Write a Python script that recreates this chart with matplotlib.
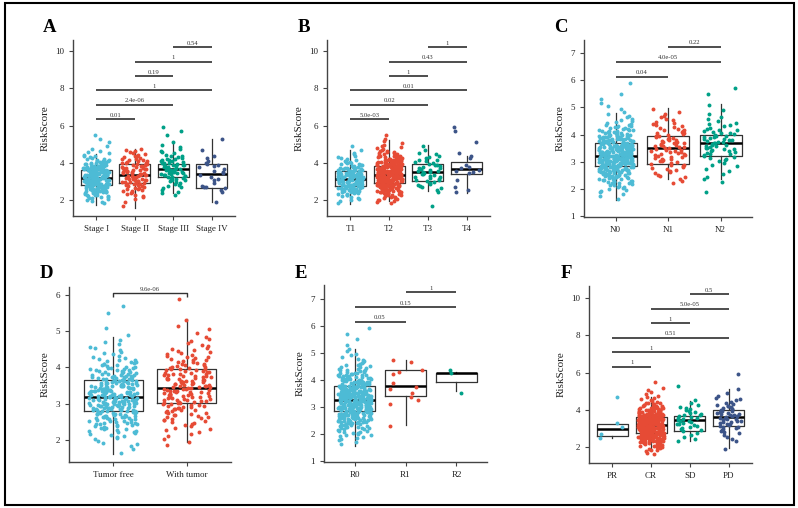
import matplotlib
matplotlib.use("Agg")
import matplotlib.pyplot as plt
from matplotlib.patches import Rectangle
import numpy as np

plt.rcParams["font.family"] = ["Liberation Serif", "DejaVu Serif"]

# ── Data ──
# point counts per 0.2-wide RiskScore bin, bins start at 1.4 (1.4-1.6, 1.6-1.8, ... 5.8-6.0)
BIN_LO = 1.4
BIN_W = 0.2

stage_labels = ["Stage I", "Stage II", "Stage III", "Stage IV"]
stage_counts = [
    [0, 0, 3, 6, 10, 15, 21, 26, 28, 28, 25, 20, 14, 9, 5, 3, 2, 1, 1, 1, 1, 0, 0],
    [0, 1, 1, 2, 4, 5, 7, 9, 10, 10, 10, 9, 8, 7, 5, 4, 3, 0, 0, 0, 0, 0, 0],
    [0, 0, 0, 0, 2, 2, 3, 4, 6, 8, 10, 10, 9, 7, 5, 3, 2, 2, 1, 0, 1, 1, 1],
    [0, 0, 1, 0, 0, 2, 4, 1, 2, 2, 3, 2, 4, 1, 2, 0, 1, 0, 0, 1, 0, 0, 0],
]
stage_q1 = [2.78, 2.89, 3.21, 2.67]
stage_med = [3.16, 3.37, 3.64, 3.38]
stage_q3 = [3.60, 3.91, 3.96, 3.95]
stage_lo = [1.75, 1.56, 2.35, 1.90]
stage_hi = [4.45, 4.75, 5.04, 5.30]
stage_pairs = [(1, 2), (1, 3), (1, 4), (2, 3), (2, 4), (3, 4)]
stage_p = ["0.01", "2.4e-06", "1", "0.19", "1", "0.54"]

t_labels = ["T1", "T2", "T3", "T4"]
t_counts = [
    [0, 0, 2, 4, 7, 11, 15, 18, 19, 19, 17, 13, 9, 6, 3, 2, 1, 1, 0, 0, 0, 0, 0],
    [0, 0, 4, 6, 10, 15, 20, 25, 29, 31, 30, 27, 22, 17, 12, 8, 5, 3, 2, 1, 1, 0, 0],
    [0, 1, 0, 0, 0, 2, 3, 4, 5, 5, 6, 5, 5, 4, 3, 2, 1, 1, 0, 0, 0, 0, 0],
    [0, 0, 0, 0, 0, 2, 1, 0, 1, 0, 3, 3, 1, 0, 2, 1, 0, 0, 1, 0, 0, 1, 1],
]
t_q1 = [2.75, 2.90, 3.00, 3.42]
t_med = [3.15, 3.35, 3.48, 3.64]
t_q3 = [3.58, 3.85, 3.95, 4.02]
t_lo = [1.80, 1.95, 2.50, 2.40]
t_hi = [4.70, 5.20, 4.95, 4.35]
t_pairs = [(1, 2), (1, 3), (1, 4), (2, 3), (2, 4), (3, 4)]
t_p = ["5.0e-03", "0.02", "0.01", "1", "0.43", "1"]

n_labels = ["N0", "N1", "N2"]
n_counts = [
    [0, 2, 4, 8, 14, 21, 29, 37, 41, 42, 38, 32, 24, 16, 10, 5, 3, 2, 2, 1, 1, 0, 1],
    [0, 0, 0, 0, 3, 4, 5, 7, 8, 9, 10, 9, 8, 7, 6, 4, 3, 2, 0, 0, 0, 0, 0],
    [0, 0, 1, 0, 2, 2, 2, 3, 5, 7, 9, 9, 9, 7, 5, 3, 2, 1, 1, 0, 1, 1, 0],
]
n_q1 = [2.84, 2.92, 3.20]
n_med = [3.23, 3.51, 3.69]
n_q3 = [3.69, 3.94, 3.97]
n_lo = [1.60, 2.38, 2.38]
n_hi = [4.79, 4.97, 5.12]
n_pairs = [(1, 2), (1, 3), (2, 3)]
n_p = ["0.04", "4.0e-05", "0.22"]

tumor_labels = ["Tumor free", "With tumor"]
tumor_counts = [
    [0, 2, 4, 7, 12, 19, 26, 31, 35, 35, 31, 25, 18, 12, 7, 4, 3, 1, 1, 0, 1, 1, 0],
    [0, 0, 2, 3, 5, 8, 11, 15, 17, 19, 19, 18, 16, 12, 9, 6, 4, 2, 2, 1, 0, 0, 1],
]
tumor_q1 = [2.81, 3.01]
tumor_med = [3.19, 3.43]
tumor_q3 = [3.64, 3.96]
tumor_lo = [1.60, 1.93]
tumor_hi = [4.83, 5.33]
tumor_pairs = [(1, 2)]
tumor_p = ["9.6e-06"]

r_labels = ["R0", "R1", "R2"]
r_counts = [
    [0, 3, 6, 10, 16, 23, 30, 36, 40, 41, 39, 34, 27, 20, 13, 8, 5, 3, 2, 1, 1, 1, 1],
    [0, 0, 0, 0, 1, 0, 0, 0, 1, 2, 1, 2, 1, 0, 3, 0, 2, 0, 0, 0, 0, 0, 0],
    [0, 0, 0, 0, 0, 0, 0, 0, 0, 0, 1, 0, 0, 0, 2, 0, 0, 0, 0, 0, 0, 0, 0],
]
r_q1 = [2.85, 3.39, 3.92]
r_med = [3.26, 3.78, 4.24]
r_q3 = [3.78, 4.36, 4.27]
r_lo = [1.57, 2.33, 3.60]
r_hi = [5.15, 4.72, 4.30]
r_pairs = [(1, 2), (1, 3), (2, 3)]
r_p = ["0.05", "0.15", "1"]

resp_labels = ["PR", "CR", "SD", "PD"]
resp_counts = [
    [0, 0, 0, 0, 0, 1, 1, 0, 1, 1, 0, 0, 0, 0, 0, 0, 1, 0, 0, 0, 0, 0, 0],
    [0, 3, 5, 9, 15, 22, 29, 34, 37, 37, 33, 27, 20, 13, 8, 4, 3, 2, 2, 0, 1, 0, 0],
    [0, 0, 0, 0, 1, 2, 2, 3, 4, 5, 5, 5, 4, 3, 2, 1, 0, 0, 0, 1, 0, 0, 0],
    [0, 0, 1, 0, 1, 2, 2, 4, 5, 6, 6, 7, 6, 5, 4, 3, 2, 1, 1, 0, 0, 0, 1],
]
resp_q1 = [2.60, 2.77, 2.87, 3.12]
resp_med = [2.98, 3.17, 3.44, 3.63]
resp_q3 = [3.23, 3.63, 3.68, 4.01]
resp_lo = [2.46, 1.83, 2.34, 1.92]
resp_hi = [3.25, 4.71, 4.48, 5.10]
resp_pairs = [(1, 2), (1, 3), (1, 4), (2, 3), (2, 4), (3, 4)]
resp_p = ["1", "1", "0.51", "1", "5.0e-05", "0.5"]

COLORS = ["#4DBBD5", "#E64B35", "#00A087", "#3C5488"]

W, H = 798, 508
fig = plt.figure(figsize=(W / 100, H / 100), dpi=100)
fig.patch.set_facecolor("white")


def px_axes(left, right, top, bottom):
    return fig.add_axes([left / W, 1 - bottom / H, (right - left) / W, (bottom - top) / H])


def points_from_counts(counts):
    ys = []
    for b, c in enumerate(counts):
        lo = BIN_LO + b * BIN_W
        for k in range(c):
            ys.append(lo + (k + 0.5) / c * BIN_W)
    return np.array(ys)


def jitter(n, seed):
    # deterministic hash-based spread in [-0.5, 0.5)
    k = np.arange(n) + seed * 1000.0
    return (np.sin(k * 12.9898 + 78.233) * 43758.5453) % 1.0 - 0.5


def panel(box, letter, labels, counts, q1, med, q3, lo, hi, pairs, pvals,
          ylim, yticks, br_y0, br_step, tips=0.0):
    ax = px_axes(*box)
    n = len(labels)
    pos = list(range(1, n + 1))

    stats = [dict(med=med[i], q1=q1[i], q3=q3[i], whislo=lo[i], whishi=hi[i], fliers=[])
             for i in range(n)]
    ax.bxp(stats, positions=pos, widths=0.8, showcaps=False, showfliers=False,
           boxprops=dict(color="#333333", lw=0.9),
           whiskerprops=dict(color="#333333", lw=0.9),
           medianprops=dict(color="black", lw=1.8), zorder=2)

    # jittered points
    for i in range(n):
        ys = points_from_counts(counts[i])
        xs = pos[i] + jitter(len(ys), ord(letter) + i) * 0.66
        ax.scatter(xs, ys, s=8, color=COLORS[i], lw=0, zorder=3)

    # significance brackets
    for k, ((a, b), p) in enumerate(zip(pairs, pvals)):
        y = br_y0 + k * br_step
        if tips:
            ax.plot([a, a, b, b], [y - tips, y, y, y - tips], color="#333333", lw=1.0,
                    solid_capstyle="butt", zorder=4)
        else:
            ax.plot([a, b], [y, y], color="#4d4d4d", lw=1.4, solid_capstyle="butt", zorder=4)
        ax.text((a + b) / 2, y + 0.008 * (ylim[1] - ylim[0]), p, ha="center", va="bottom",
                fontsize=4.8, color="#333333")

    ax.set_xlim(0.4, n + 0.6)
    ax.set_ylim(*ylim)
    ax.set_yticks(yticks)
    ax.set_xticks(pos)
    ax.set_xticklabels(labels)
    ax.set_ylabel("RiskScore", fontsize=8, color="#222222", labelpad=4)
    ax.tick_params(labelsize=6.5, length=3, width=0.8, color="#444444", labelcolor="#222222")
    for s in ["top", "right"]:
        ax.spines[s].set_visible(False)
    for s in ["left", "bottom"]:
        ax.spines[s].set_color("#444444")
        ax.spines[s].set_linewidth(1.0)

    fig.text((box[0] - 23) / W, 1 - 28 / H if box[2] < 100 else 1 - 273 / H, letter,
             fontsize=13.5, fontweight="bold", ha="center", va="center")
    return ax


panel((73, 235, 40, 216), "A", stage_labels, stage_counts, stage_q1, stage_med, stage_q3,
      stage_lo, stage_hi, stage_pairs, stage_p, (1.14, 10.6), [2, 4, 6, 8, 10], 6.35, 0.77)
panel((327, 490, 40, 216), "B", t_labels, t_counts, t_q1, t_med, t_q3,
      t_lo, t_hi, t_pairs, t_p, (1.14, 10.6), [2, 4, 6, 8, 10], 6.35, 0.77)
panel((584, 752, 40, 217), "C", n_labels, n_counts, n_q1, n_med, n_q3,
      n_lo, n_hi, n_pairs, n_p, (0.97, 7.48), [1, 2, 3, 4, 5, 6, 7], 6.13, 0.55)
panel((69, 231, 287, 462), "D", tumor_labels, tumor_counts, tumor_q1, tumor_med, tumor_q3,
      tumor_lo, tumor_hi, tumor_pairs, tumor_p, (1.39, 6.22), [2, 3, 4, 5, 6], 6.05, 0.0, tips=0.1)
panel((324, 487, 285, 462), "E", r_labels, r_counts, r_q1, r_med, r_q3,
      r_lo, r_hi, r_pairs, r_p, (0.97, 7.5), [1, 2, 3, 4, 5, 6, 7], 6.14, 0.545)
panel((589, 752, 286, 463), "F", resp_labels, resp_counts, resp_q1, resp_med, resp_q3,
      resp_lo, resp_hi, resp_pairs, resp_p, (1.14, 10.65), [2, 4, 6, 8, 10], 6.31, 0.78)

# outer frame
fig.patches.append(Rectangle((5 / W, 3 / H), 789 / W, 502 / H, transform=fig.transFigure,
                             fill=False, ec="black", lw=1.5))

fig.savefig("out.png", dpi=100, facecolor="white")
